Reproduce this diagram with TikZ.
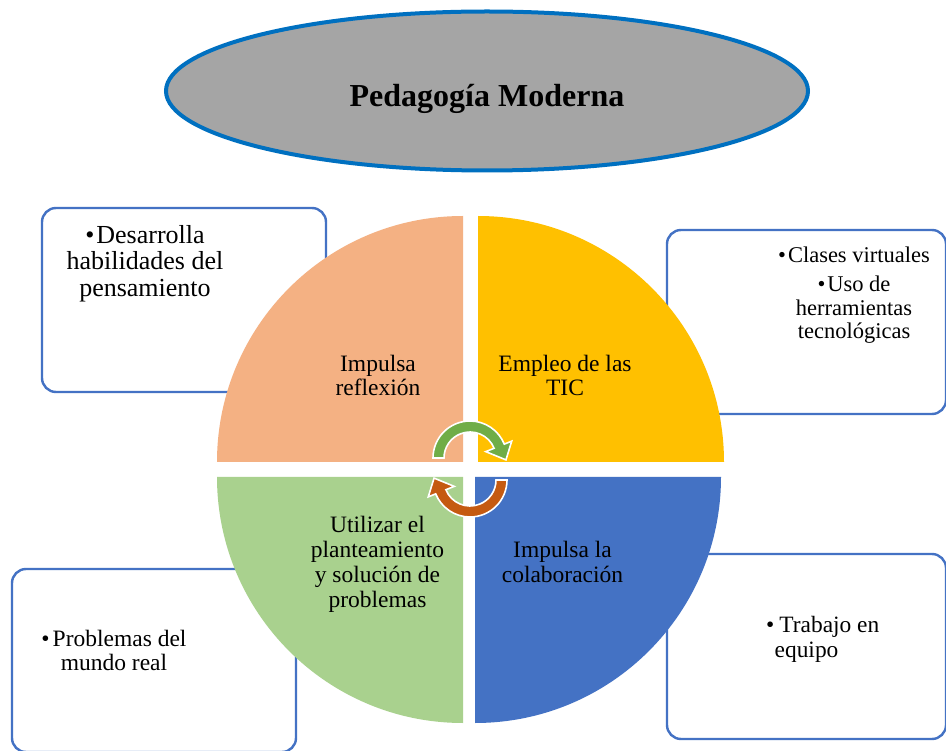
\documentclass[tikz,border=0pt]{standalone}
\usepackage{fontspec}
\setmainfont{Liberation Serif}
\usetikzlibrary{calc,shapes.geometric}
\definecolor{qsalmon}{HTML}{F4B183}
\definecolor{qyellow}{HTML}{FFC000}
\definecolor{qgreen}{HTML}{A9D18E}
\definecolor{qblue}{HTML}{4472C4}
\definecolor{arrgreen}{HTML}{70AD47}
\definecolor{arrorange}{HTML}{C55A11}
\definecolor{boxblue}{HTML}{4472C4}
\definecolor{ellgray}{HTML}{A5A5A5}
\definecolor{ellblue}{HTML}{0070C0}
\begin{document}
\begin{tikzpicture}[x=1pt,y=-1pt,
  sidebox/.style={draw=boxblue,line width=2.4pt,rounded corners=14pt,fill=white,inner sep=0pt},
  boxtext/.style={inner sep=0pt,align=center},
  quadtext/.style={inner sep=0pt,align=center,font=\fontsize{23.5}{24}\selectfont},
  cyclearrow/.style={draw=white,line width=1.6pt,line join=miter}]
\useasboundingbox (0,0) rectangle (946,751);
\fill[white] (0,0) rectangle (946,751);
% title
\node[ellipse,fill=ellgray,draw=ellblue,line width=4pt,minimum width=642pt,minimum height=159pt,inner sep=0pt] (title) at (487,91) {};
\node[inner sep=0pt,anchor=base,font=\bfseries\fontsize{32}{32}\selectfont] (titletext) at (487,107) {Pedagogía Moderna};
% side boxes
\node[sidebox,minimum width=284pt,minimum height=184pt] (boxtl) at (184,300) {};
\node[sidebox,minimum width=279pt,minimum height=184pt] (boxtr) at (806.5,322) {};
\node[sidebox,minimum width=284pt,minimum height=183pt] (boxbl) at (154,660.5) {};
\node[sidebox,minimum width=279pt,minimum height=185pt] (boxbr) at (806.5,646.5) {};
\node[boxtext,font=\fontsize{26}{26.5}\selectfont] (ttl) at (145,263.4) {•\hspace{2pt}Desarrolla\\habilidades del\\pensamiento};
\node[boxtext,font=\fontsize{22.5}{23.5}\selectfont] (ttr) at (854,295.2) {•\hspace{2pt}Clases virtuales\\[5.5pt]•\hspace{2pt}Uso de\\herramientas\\tecnológicas};
\node[boxtext,font=\fontsize{23.5}{24}\selectfont] (tbl) at (114,650) {•\hspace{3pt}Problemas del\\mundo real};
\node[inner sep=0pt,align=left,anchor=west,font=\fontsize{23.4}{25}\selectfont] (tbr) at (766,639) {•\hspace{5pt}Trabajo en\\\hspace{8.5pt}equipo};
% pie quadrants
\coordinate (ctl) at (463,462);
\coordinate (ctr) at (478,462);
\coordinate (cbl) at (463,477);
\coordinate (cbr) at (475,477);
\fill[qsalmon] (ctl) -- ++(180:246) arc[start angle=180,end angle=270,radius=246] -- cycle;
\fill[qyellow] (ctr) -- ++(270:246) arc[start angle=270,end angle=360,radius=246] -- cycle;
\fill[qgreen] (cbl) -- ++(90:246) arc[start angle=90,end angle=180,radius=246] -- cycle;
\fill[qblue] (cbr) -- ++(0:246) arc[start angle=0,end angle=90,radius=246] -- cycle;
\node[quadtext,font=\fontsize{23.5}{23.5}\selectfont] (qtl) at (378,375.5) {Impulsa\\reflexión};
\node[quadtext,font=\fontsize{23.5}{23.5}\selectfont] (qtr) at (565,375.5) {Empleo de las\\TIC};
\node[quadtext,font=\fontsize{23.5}{25}\selectfont] (qbl) at (377.5,564) {Utilizar el\\planteamiento\\y solución de\\problemas};
\node[quadtext,font=\fontsize{23.5}{25}\selectfont] (qbr) at (562.5,561.5) {Impulsa la\\colaboración};
% cycle arrows
\coordinate (G) at (470,458);
\coordinate (O) at (470,480);
\draw[cyclearrow,fill=arrgreen] ($(G)+(180:37)$) arc[start angle=180,end angle=338,radius=37]
  -- ($(G)+(338:45)$) -- ($(G)+(3:36)$) -- ($(G)+(338:17)$) -- ($(G)+(338:26)$)
  arc[start angle=338,end angle=180,radius=26] -- cycle;
\draw[cyclearrow,fill=arrorange] ($(O)+(0:37)$) arc[start angle=0,end angle=158,radius=37]
  -- ($(O)+(158:45)$) -- ($(O)+(183:36)$) -- ($(O)+(158:17)$) -- ($(O)+(158:26)$)
  arc[start angle=158,end angle=0,radius=26] -- cycle;
\end{tikzpicture}
\end{document}
